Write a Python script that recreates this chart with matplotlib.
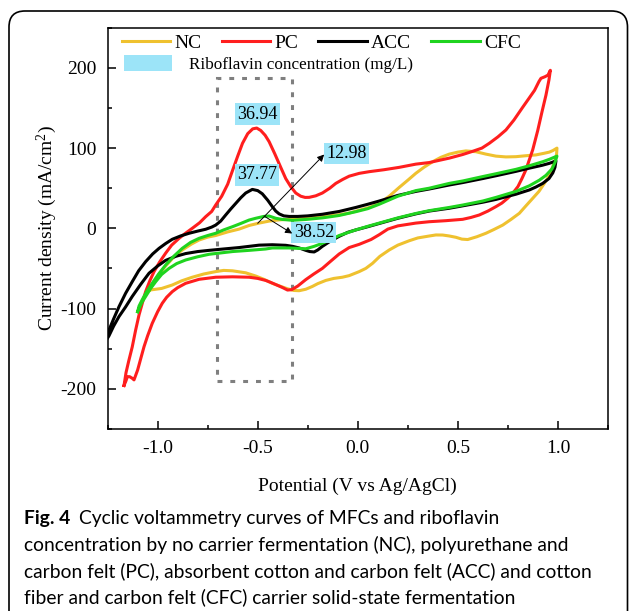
import numpy as np
import matplotlib
matplotlib.use("Agg")
import matplotlib.pyplot as plt
from matplotlib.patches import Rectangle, Patch, FancyBboxPatch
from matplotlib.transforms import IdentityTransform

# CV loops: upper (anodic) branch left->right, then lower branch right->left
nc_v = [-1.04, -1.018, -0.99, -0.96, -0.92, -0.877, -0.83, -0.793, -0.75, -0.71, -0.65, -0.593,
        -0.543, -0.493, -0.443, -0.393, -0.33, -0.26, -0.177, -0.093, -0.043, 0.007, 0.057, 0.107,
        0.157, 0.207, 0.25, 0.29, 0.33, 0.374, 0.415, 0.457, 0.5, 0.54, 0.59, 0.64, 0.69, 0.74,
        0.79, 0.84, 0.89, 0.93, 0.957, 0.975, 0.995,
        0.993, 0.985, 0.974, 0.955, 0.932, 0.905, 0.874, 0.84, 0.807, 0.765, 0.724, 0.68, 0.64,
        0.595, 0.549, 0.52, 0.49, 0.455, 0.424, 0.39, 0.357, 0.3, 0.257, 0.2, 0.157, 0.11, 0.074,
        0.04, 0.007, -0.043, -0.077, -0.12, -0.16, -0.2, -0.227, -0.26, -0.293, -0.32, -0.35,
        -0.39, -0.427, -0.47, -0.51, -0.56, -0.626, -0.67, -0.71, -0.77, -0.827, -0.88, -0.927,
        -0.98, -1.04]
nc_i = [-77, -66, -56, -47, -36, -27, -19.5, -14.6, -11, -9, -4.5, -1,
        3.5, 6.5, 9, 10.5, 11.5, 12.5, 14.5, 17, 19, 22.5, 26, 31,
        40, 51, 60, 68.6, 76, 83, 88.5, 92.5, 95, 96.5, 95.5, 92.5, 90, 89,
        89.3, 90.5, 91.5, 93.5, 95, 97, 100,
        92, 85, 77, 65, 56, 46, 37.4, 28, 18.7, 11, 4, -1.5, -6.2,
        -10.5, -14, -13.5, -11.2, -9.5, -8.4, -8.3, -9.6, -12, -15.5, -21, -27, -35, -43.6,
        -50, -54, -59, -61, -62.5, -65, -69, -72.5, -76, -77.8, -77.5, -75.5,
        -72, -68.6, -63.5, -59.5, -55.5, -53, -52.5, -54, -57, -61, -65.5, -70.7,
        -75, -77]

pc_v = [-1.168, -1.158, -1.145, -1.127, -1.11, -1.093, -1.075, -1.06, -1.04, -1.018, -0.99,
        -0.96, -0.93, -0.893, -0.86, -0.827, -0.79, -0.76, -0.73, -0.71, -0.68, -0.65, -0.626,
        -0.6, -0.576, -0.55, -0.525, -0.505, -0.485, -0.463, -0.443, -0.415, -0.385, -0.36,
        -0.335, -0.31, -0.285, -0.263, -0.243, -0.21, -0.177, -0.14, -0.11, -0.075, -0.043,
        0.007, 0.057, 0.13, 0.207, 0.29, 0.357, 0.457, 0.524, 0.574, 0.62, 0.657, 0.7, 0.74,
        0.78, 0.824, 0.855, 0.883, 0.905, 0.915, 0.935, 0.95, 0.962,
        0.955, 0.94, 0.92, 0.899, 0.874, 0.855, 0.84, 0.82, 0.8, 0.775, 0.749, 0.72, 0.69,
        0.65, 0.607, 0.565, 0.524, 0.44, 0.357, 0.29, 0.2, 0.15, 0.107, 0.066, 0.007, -0.043,
        -0.093, -0.14, -0.177, -0.22, -0.26, -0.3, -0.33, -0.351, -0.375, -0.393, -0.43,
        -0.46, -0.5, -0.543, -0.626, -0.71, -0.793, -0.86, -0.9, -0.927, -0.955, -0.977, -1.0,
        -1.027, -1.05, -1.068, -1.085, -1.1, -1.118, -1.127, -1.14, -1.151, -1.158, -1.168]
pc_i = [-196, -180, -166, -148, -127, -108, -92, -79, -66, -54, -42,
        -31, -21, -12.5, -6, 0, 7, 14.5, 21, 29, 40, 55, 72,
        90, 106, 118, 124, 125, 122, 116, 108, 93, 76, 62,
        52, 44, 40, 38.5, 38.6, 40.5, 44, 50, 56, 61, 65,
        68.5, 70.6, 73, 76, 80, 82, 87.5, 92, 96, 100, 106, 114, 122.6,
        135, 151, 162, 172, 183, 187, 189, 191, 197,
        185, 166, 145, 122, 98, 84, 73, 62, 52, 44, 37.5, 31.5, 27,
        21.5, 16.6, 13.5, 11.2, 9.5, 8.2, 6.5, 3, -1, -8, -14, -20, -24,
        -32, -42, -50, -57, -64, -72, -76.5, -77, -74, -72, -68,
        -65, -62.5, -61, -60.5, -61, -63.6, -68.6, -74, -79, -86, -93.5, -104,
        -118.5, -134, -147.6, -163, -176.7, -189, -187, -185, -185, -190, -196]

acc_v = [-1.27, -1.25, -1.22, -1.193, -1.16, -1.127, -1.095, -1.06, -1.025, -0.993, -0.96,
         -0.927, -0.885, -0.843, -0.8, -0.76, -0.73, -0.71, -0.685, -0.66, -0.635, -0.61,
         -0.585, -0.56, -0.527, -0.5, -0.477, -0.45, -0.427, -0.41, -0.393, -0.37, -0.343,
         -0.3, -0.25, -0.177, -0.093, -0.01, 0.05, 0.107, 0.2, 0.29, 0.357, 0.457, 0.524,
         0.624, 0.69, 0.79, 0.857, 0.92, 0.957, 0.99,
         0.985, 0.974, 0.955, 0.924, 0.89, 0.857, 0.79, 0.69, 0.624, 0.524, 0.457, 0.357,
         0.29, 0.2, 0.107, 0.05, -0.01, -0.05, -0.093, -0.14, -0.177, -0.2, -0.218, -0.24,
         -0.26, -0.293, -0.326, -0.36, -0.427, -0.493, -0.593, -0.68, -0.743, -0.8, -0.86,
         -0.91, -0.96, -1.0, -1.043, -1.085, -1.127, -1.16, -1.193, -1.22, -1.243, -1.27]
acc_i = [-145, -131, -113, -97.7, -81, -66.6, -53, -41.6, -32, -25, -19,
         -13.7, -9.5, -6.2, -3.5, -1.2, 1.5, 4, 9, 16.6, 24, 31,
         38, 44, 48.5, 47, 43, 35, 27, 21.5, 18, 15.5, 14.8,
         14.8, 15.5, 17.5, 21, 26, 30, 34, 41, 46, 49, 54, 57,
         62, 65.5, 71, 75, 78.5, 81, 84,
         76, 69, 62, 56, 51.5, 47.8, 42.5, 36, 32.5, 28, 25, 21.5,
         18, 12.5, 6, 2, -2, -5, -10, -16.5, -22.5, -27, -29.5, -29,
         -27.5, -24.5, -22.5, -21.2, -20.5, -21, -24, -26, -27.5, -29, -31.5,
         -35, -40, -47, -56, -70, -85, -98, -110, -122, -134, -145]

cfc_v = [-1.1, -1.093, -1.077, -1.055, -1.027, -0.995, -0.96, -0.92, -0.877, -0.835, -0.793,
         -0.75, -0.71, -0.67, -0.626, -0.585, -0.543, -0.51, -0.47, -0.443, -0.41, -0.376,
         -0.326, -0.26, -0.177, -0.093, -0.01, 0.05, 0.107, 0.2, 0.29, 0.357, 0.457, 0.524,
         0.624, 0.69, 0.79, 0.857, 0.924, 0.957, 0.995,
         0.985, 0.97, 0.94, 0.907, 0.857, 0.79, 0.69, 0.624, 0.524, 0.457, 0.357, 0.29, 0.2,
         0.107, 0.05, -0.01, -0.093, -0.14, -0.18, -0.218, -0.26, -0.3, -0.343, -0.427, -0.46,
         -0.543, -0.626, -0.743, -0.8, -0.86, -0.905, -0.943, -0.98, -1.01, -1.035, -1.06,
         -1.08, -1.093, -1.1]
cfc_i = [-104, -97, -89, -79, -68.6, -57, -45.8, -35, -25, -17.5, -12.5,
         -9, -6.2, -2, 2, 6, 10.3, 12.5, 14.8, 15.3, 12.5, 11,
         10, 11, 13, 16, 20.7, 24.5, 30, 40, 47, 50, 56, 59,
         64.5, 68, 73.5, 78, 83, 86, 90,
         82, 74, 66, 60, 53, 46, 38.5, 34, 29, 26, 22, 18.5, 13,
         6.5, 2.5, -2, -9, -14.5, -19, -22.5, -25.5, -25, -24.5, -24.5, -25.8,
         -27.5, -29, -32.4, -35.5, -39.5, -44, -50, -57.5, -66.6, -75, -85,
         -93, -100, -104]

names = ["NC", "PC", "ACC", "CFC"]
colors = ["#EFC12F", "#FF1E1E", "#000000", "#1FD41F"]

# riboflavin concentration labels (mg/L): text, label centre, arrow start / end
rib_text = ["36.94", "37.77", "12.98", "38.52"]
rib_xy = [(-0.50, 142.5), (-0.505, 66.5), (-0.056, 93.5), (-0.22, -5.2)]
arrow_from = [None, None, (-0.50, 6.2), (-0.468, 15.3)]
arrow_to = [None, None, (-0.168, 92.0), (-0.328, -6.5)]

box_v = (-0.705, -0.331)
box_i = (-191, 187)

plt.rcParams['font.family'] = 'Liberation Serif'
plt.rcParams['mathtext.fontset'] = 'custom'
plt.rcParams['mathtext.rm'] = 'Liberation Serif'
plt.rcParams['axes.unicode_minus'] = False

fig = plt.figure(figsize=(6.29, 6.11), dpi=100)
ax = fig.add_axes([107.6 / 629, 1 - 428.8 / 611, 500.4 / 629, 401 / 611])

series = [(nc_v, nc_i), (pc_v, pc_i), (acc_v, acc_i), (cfc_v, cfc_i)]
handles = []
for (v, i), name, c in zip(series, names, colors):
    ln, = ax.plot(v, i, color=c, lw=2.2, label=name, solid_joinstyle='round')
    handles.append(ln)

ax.add_patch(Rectangle((box_v[0], box_i[0]), box_v[1] - box_v[0], box_i[1] - box_i[0],
                       fill=False, edgecolor='#7f7f7f', lw=2.2, linestyle=(0, (1.6, 2.6))))

blue = '#9CE4F8'
for k, (txt, xy) in enumerate(zip(rib_text, rib_xy)):
    ax.text(xy[0], xy[1], txt, fontsize=13, ha='center', va='center', zorder=5,
            bbox=dict(boxstyle='square,pad=0.12', fc=blue, ec='none'))
    if arrow_from[k] is not None:
        ax.annotate('', xy=arrow_to[k], xytext=arrow_from[k], zorder=6,
                    arrowprops=dict(arrowstyle='-|>', color='black', lw=0.7,
                                    mutation_scale=10, shrinkA=0, shrinkB=0))

ax.set_xlim(-1.25, 1.25)
ax.set_ylim(-250, 250)
ax.set_xticks([-1.0, -0.5, 0.0, 0.5, 1.0])
ax.set_xticks(np.arange(-1.25, 1.26, 0.25), minor=True)
ax.set_yticks([-200, -100, 0, 100, 200])
ax.set_yticks(np.arange(-250, 251, 50), minor=True)
ax.tick_params(which='both', direction='in', top=False, right=False, width=1.1, labelsize=14)
ax.tick_params(which='major', length=5.5, pad=8)
ax.tick_params(which='minor', length=3)
for s in ax.spines.values():
    s.set_linewidth(1.1)

ax.set_xlabel('Potential (V vs Ag/AgCl)', fontsize=14, labelpad=15)
ax.set_ylabel('Current density (mA/cm$\\mathregular{^2}$)', fontsize=14, labelpad=1)

leg1 = ax.legend(handles=handles, labels=names, ncol=4, loc='upper left',
                 bbox_to_anchor=(0.028, 0.983), frameon=False, fontsize=14,
                 handlelength=2.5, handletextpad=0.2, columnspacing=1.05,
                 borderaxespad=0, borderpad=0)
ax.add_artist(leg1)
ax.legend(handles=[Patch(facecolor=blue, edgecolor='none')],
          labels=['Riboflavin concentration (mg/L)'], loc='upper left',
          bbox_to_anchor=(0.032, 0.932), frameon=False, fontsize=12.3,
          handlelength=2.85, handleheight=1.1, handletextpad=1.0,
          borderaxespad=0, borderpad=0)

# rounded frame around the figure panel
frame = FancyBboxPatch((9, -40), 618.5, 640, boxstyle='round,pad=0,rounding_size=16',
                       transform=IdentityTransform(), fill=False, ec='black', lw=1.2)
fig.add_artist(frame)

cap_font = 'Lato'
cap_size = 13.9
cap_x = 24 / 629
t0 = fig.text(cap_x, 1 - 524 / 611, 'Fig. 4', fontsize=cap_size, fontweight='bold',
              family=cap_font, va='baseline')
ax.annotate('Cyclic voltammetry curves of MFCs and riboflavin', xy=(1, 0), xycoords=t0,
            xytext=(6, 0), textcoords='offset points', fontsize=cap_size,
            family=cap_font, va='bottom', annotation_clip=False)
lines = ['concentration by no carrier fermentation (NC), polyurethane and',
         'carbon felt (PC), absorbent cotton and carbon felt (ACC) and cotton',
         'fiber and carbon felt (CFC) carrier solid-state fermentation']
for n, s in enumerate(lines):
    fig.text(cap_x, 1 - (524 + 26.5 * (n + 1)) / 611, s, fontsize=cap_size,
             family=cap_font, va='baseline')

fig.savefig('out.png', dpi=100)
